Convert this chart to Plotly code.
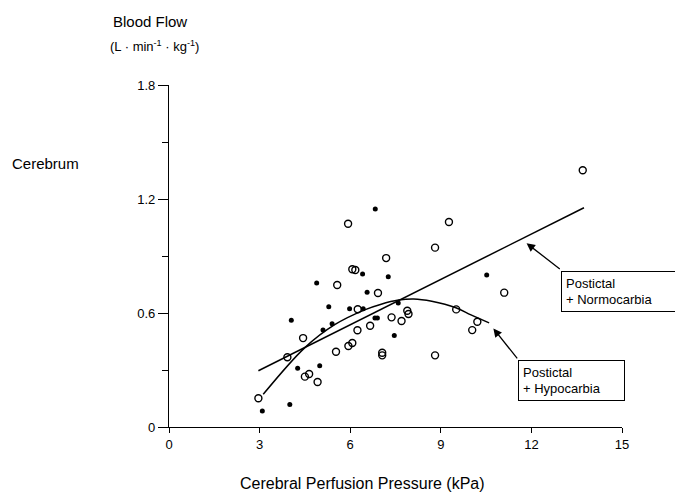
import plotly.graph_objects as go

# Open circles: Postictal + Normocarbia
open_x = [2.96, 3.92, 4.44, 4.50, 4.64, 4.92, 5.57, 5.53, 5.93, 5.94, 6.07, 6.07, 6.17, 6.25, 6.24,
          6.66, 6.92, 7.06, 7.06, 7.19, 7.37, 7.70, 7.89, 7.93, 8.81, 8.81, 9.27, 9.51, 10.04, 10.21,
          11.10, 13.70]
open_y = [0.151, 0.367, 0.468, 0.265, 0.279, 0.237, 0.747, 0.396, 1.070, 0.426, 0.442, 0.830, 0.826,
          0.620, 0.509, 0.533, 0.705, 0.391, 0.377, 0.889, 0.577, 0.558, 0.612, 0.595, 0.944, 0.377,
          1.079, 0.619, 0.510, 0.554, 0.707, 1.351]

# Filled dots: Postictal + Hypocarbia
fill_x = [3.09, 4.00, 4.05, 4.26, 4.89, 4.99, 5.10, 5.29, 5.40, 5.98, 6.41, 6.43, 6.56, 6.83, 6.82,
          6.90, 7.26, 7.46, 7.59, 10.52]
fill_y = [0.084, 0.119, 0.562, 0.309, 0.758, 0.323, 0.511, 0.633, 0.544, 0.623, 0.805, 0.623, 0.709,
          1.147, 0.574, 0.574, 0.791, 0.482, 0.652, 0.800]

# Regression line (normocarbia)
norm_x = [2.96, 13.74]
norm_y = [0.296, 1.154]

# Regression curve (hypocarbia)
hypo_x = [3.12, 4.5, 5.5, 6.5, 7.0, 7.6, 8.1, 8.7, 9.5, 10.0, 10.6]
hypo_y = [0.172, 0.418, 0.540, 0.618, 0.645, 0.668, 0.674, 0.662, 0.628, 0.590, 0.548]

x_ticks = [0, 3, 6, 9, 12, 15]
y_ticks = [0, 0.6, 1.2, 1.8]
y_tick_labels = ["0", "0.6", "1.2", "1.8"]
y_minor_ticks = [0.3, 0.9, 1.5]

FONT = "Liberation Sans, Arial, sans-serif"

fig = go.Figure()
fig.add_trace(go.Scatter(x=norm_x, y=norm_y, mode="lines",
                         line=dict(color="black", width=1.5), showlegend=False, hoverinfo="skip"))
fig.add_trace(go.Scatter(x=hypo_x, y=hypo_y, mode="lines", line_shape="spline",
                         line=dict(color="black", width=1.5), showlegend=False, hoverinfo="skip"))
fig.add_trace(go.Scatter(x=open_x, y=open_y, mode="markers", showlegend=False,
                         marker=dict(symbol="circle-open", size=7, color="black",
                                     line=dict(width=1.4, color="black"))))
fig.add_trace(go.Scatter(x=fill_x, y=fill_y, mode="markers", showlegend=False,
                         marker=dict(symbol="circle", size=5, color="black")))

# Callout boxes
fig.add_annotation(x=12.97, y=0.823, xref="x", yref="y", xanchor="left", yanchor="top",
                   text="Postictal<br>+ Normocarbia", align="left", showarrow=False,
                   font=dict(family=FONT, size=13, color="black"),
                   bordercolor="black", borderwidth=1, borderpad=4, bgcolor="white",
                   width=107, height=31)
fig.add_annotation(x=11.57, y=0.353, xref="x", yref="y", xanchor="left", yanchor="top",
                   text="Postictal<br>+ Hypocarbia", align="left", showarrow=False,
                   font=dict(family=FONT, size=13, color="black"),
                   bordercolor="black", borderwidth=1, borderpad=4, bgcolor="white",
                   width=97, height=31)
# Arrows
fig.add_annotation(x=11.84, y=0.967, ax=12.99, ay=0.826, xref="x", yref="y", axref="x", ayref="y",
                   text="", showarrow=True, arrowhead=2, arrowsize=1.3, arrowwidth=1.3,
                   arrowcolor="black")
fig.add_annotation(x=10.74, y=0.519, ax=11.57, ay=0.353, xref="x", yref="y", axref="x", ayref="y",
                   text="", showarrow=True, arrowhead=2, arrowsize=1.3, arrowwidth=1.3,
                   arrowcolor="black")

# Titles
fig.add_annotation(x=-0.128, y=1.187, xref="paper", yref="paper", xanchor="left", yanchor="middle",
                   text="Blood Flow", showarrow=False, font=dict(family=FONT, size=15, color="black"))
fig.add_annotation(x=-0.134, y=1.113, xref="paper", yref="paper", xanchor="left", yanchor="middle",
                   text="(L · min<sup>-1</sup> · kg<sup>-1</sup>)", showarrow=False,
                   font=dict(family=FONT, size=13, color="black"))
fig.add_annotation(x=-0.350, y=0.770, xref="paper", yref="paper", xanchor="left", yanchor="middle",
                   text="Cerebrum", showarrow=False, font=dict(family=FONT, size=15, color="black"))
fig.add_annotation(x=0.428, y=-0.164, xref="paper", yref="paper", xanchor="center", yanchor="middle",
                   text="Cerebral Perfusion Pressure (kPa)", showarrow=False,
                   font=dict(family=FONT, size=16, color="black"))

fig.update_xaxes(range=[0, 15], tickvals=x_ticks, showline=True, linecolor="black", linewidth=1.2,
                 ticks="outside", ticklen=5, tickcolor="black", showgrid=False, zeroline=False,
                 tickfont=dict(family=FONT, size=13, color="black"))
fig.update_yaxes(range=[0, 1.8], tickvals=y_ticks, ticktext=y_tick_labels, showline=True,
                 linecolor="black", linewidth=1.2, ticks="outside", ticklen=10, tickcolor="black",
                 showgrid=False, zeroline=False, tickfont=dict(family=FONT, size=13, color="black"),
                 minor=dict(tickvals=y_minor_ticks, ticks="outside", ticklen=6, tickcolor="black",
                            showgrid=False))

# The page body adds an 8px margin, so the figure is sized/offset to keep the plot area in place
fig.update_layout(width=675, height=485, margin=dict(l=161, r=61, t=77, b=66),
                  plot_bgcolor="white", paper_bgcolor="white", showlegend=False,
                  font=dict(family=FONT, color="black"))

fig.write_html("out.html")
